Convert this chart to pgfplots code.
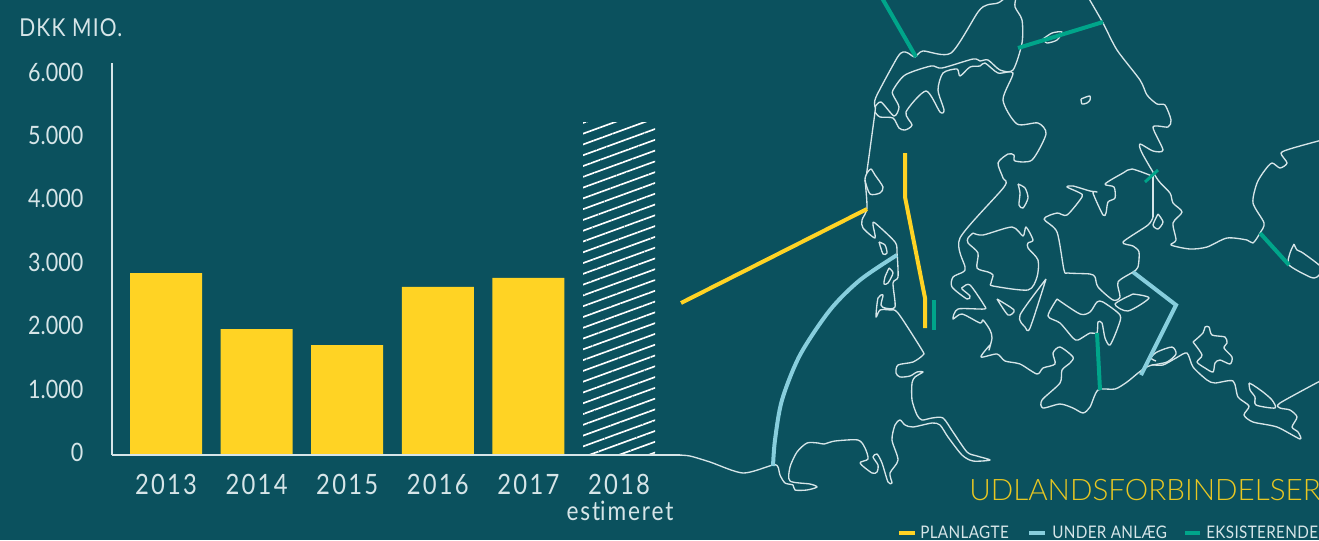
\documentclass[border=0pt]{standalone}
\usepackage{fontspec}
\setmainfont{Lato}[FakeStretch=0.85]
\newfontfamily\titlefont{Lato Light}
\newfontfamily\yearfont{Lato}[FakeStretch=0.85,LetterSpace=8]
\newfontfamily\dkkfont{Lato}[FakeStretch=0.85,LetterSpace=5]
\newfontfamily\estfont{Lato}[FakeStretch=0.85,LetterSpace=7]
\newfontfamily\legfont{Lato}[FakeStretch=0.88,LetterSpace=2]
\usepackage{pgfplots}
\pgfplotsset{compat=1.18}
\usetikzlibrary{patterns.meta}
\definecolor{bg}{HTML}{0B515E}
\definecolor{ylw}{HTML}{FFD324}
\definecolor{ttl}{HTML}{E8C722}
\definecolor{blu}{HTML}{87CEDD}
\definecolor{grn}{HTML}{00A58A}
\definecolor{wht}{HTML}{D6E5E8}
\pgfplotsset{
 coast/.style={no marks,smooth,tension=0.45,line width=1pt,color=wht,line join=round},
 link/.style={no marks,line width=#1,line cap=butt,line join=miter},
}
\begin{document}
\begin{tikzpicture}
\fill[bg] (0,0) rectangle (989.25pt,405pt);
\useasboundingbox (0,0) rectangle (989.25pt,405pt);
\begin{axis}[at={(0pt,0pt)},anchor=south west,scale only axis,width=989.25pt,height=405pt,
 xmin=0,xmax=1319,ymin=0,ymax=540,y dir=reverse,hide axis,clip=true]
% --- north coast
\addplot[coast] coordinates {(866.7,173)(875,112)(875,107)(876,97)(897,58)(903,52)(908,53)(915,57)(923,51)(951,53)(978,12)(987,5)(998,3)(1005,-2)};
\addplot[coast] coordinates {(875,107)(881,102)(894,116)(899,107)(893,95)(893,90)(905,75)(931,66)(942,68)(973,59)(980,61)(988,60)(1000,70)(1013,70)(1022,43)(1022,20)(1015,7)(1016,-2)};
% --- long east coast of Jutland and southwards
\addplot[coast] coordinates {(875,112)(880,117)(893,118)(899,128)(905,130)(912,125)(906,112)(926,91)(940,112)(944,110)(938,90)(943,73)(957,69)(960,76)(970,67)(980,66)(985,63)(998,73)(1013,73)(1003,100)(1017,124)(1038,123)(1046,134)(1032,160)(1015,161)(1014,155)(1008,154)(998,163)(1003,178)(1004,187)(960,238)(965,267)(963,272)(953,277)(952,287)(967,299)(970,296)(962,289)(963,287)(970,285)(984,305)(984,309)(958,309)(953,319)(962,314)(980,323)(983,320)(990,330)(992,338)(989,350)(990,345)(981,357)(997,354)(1005,361)(1020,364)(1037,374)(1043,368)(1055,364)(1053,353)(1060,347)(1073,357)(1070,363)(1062,370)(1060,383)(1042,400)(1043,408)(1060,404)(1073,408)(1083,413)(1090,407)(1098,390)(1115,389)(1127,382)(1138,373)(1145,368)(1152,365)(1163,365)(1176,358)(1187,353)(1193,367)(1207,380)(1215,383)(1233,381)(1238,397)(1249,406)(1244,415)(1253,422)(1277,427)(1300,439)(1298,432)(1292,427)(1297,417)(1290,410)(1280,408)(1280,403)(1322,380)};
% --- west coast and Wadden sea
\addplot[coast] coordinates {(867,173)(871,169)(875,175)(883,187)(880,193)(870,194)(865,180)(867,173)};
\addplot[coast] coordinates {(865,180)(867,208)(862,220)(863,228)(875,238)(873,225)(875,223)(895,242)(897,253)(898,277)(893,283)(895,307)(885,308)(881,305)(883,295)(878,298)(876,317)(880,310)(890,310)(898,313)(922,350)(923,355)(913,362)(898,365)(896,373)(900,377)(910,376)(917,372)(923,372)(915,377)(912,383)(912,400)(917,415)(922,420)(932,418)(943,418)(953,432)(967,452)(977,456)(990,460)(973,461)(962,455)(948,437)(940,425)(932,423)(913,427)(905,425)(900,420)(895,425)(892,440)(898,460)(890,473)(892,483)(888,482)(882,463)(877,454)(873,457)(878,465)(877,472)(872,473)(860,463)(868,459)(865,448)(858,440)(835,441)(824,444)(818,443)(807,443)(797,452)(790,467)(790,481)(810,484)(817,487)(807,490)(795,490)(793,485)(785,483)(780,475)(778,467)(773,465)(743,473)(710,462)(690,456)(678,455)};
% --- small islands
\addplot[coast] coordinates {(879,242)(885,245)(887,253)(883,254)(879,242)};
\addplot[coast] coordinates {(889,268)(893,273)(888,283)(884,284)(885,277)(889,268)};
\addplot[coast] coordinates {(1018,184)(1025,188)(1028,198)(1023,208)(1019,205)(1020,193)(1018,184)};
\addplot[coast] coordinates {(973,233)(983,235)(1012,227)(1023,236)(1026,227)(1033,240)(1028,243)(1028,248)(1038,260)(1037,277)(1028,290)(993,286)(991,283)(993,275)(988,272)(977,268)(978,253)(968,243)(968,238)(973,233)};
\addplot[coast] coordinates {(997,299)(1014,310)(1008,315)(997,299)};
\addplot[coast] coordinates {(1046,279)(1030,328)(1025,327)(1020,315)(1046,279)};
\addplot[coast] coordinates {(1057,299)(1080,314)(1090,312)(1097,302)(1103,302)(1120,315)(1118,327)(1110,345)(1105,338)(1102,323)(1098,322)(1097,333)(1090,333)(1078,340)(1073,338)(1060,323)(1048,316)(1057,299)};
\addplot[coast] coordinates {(1153,217)(1148,225)(1123,242)(1133,246)(1139,252)(1138,267)(1133,272)(1118,282)(1120,297)(1113,300)(1098,287)(1095,277)(1090,274)(1068,273)(1064,270)(1057,232)(1044,219)(1057,213)(1067,215)(1082,197)(1080,193)(1067,187)(1073,186)(1090,191)(1097,192)(1093,193)(1103,215)(1106,213)(1108,202)(1115,198)(1114,187)(1105,184)(1123,173)(1132,169)(1152,176)};
\addplot[coast,sharp plot] coordinates {(1153,175)(1153,217)};
\addplot[coast] coordinates {(1088,-3)(1103,23)(1117,50)(1140,80)(1147,95)(1157,104)(1165,105)(1171,120)(1168,127)(1153,127)(1163,150)(1153,151)(1140,144)(1142,153)(1158,180)(1170,193)(1173,203)(1182,212)(1173,223)(1176,240)(1171,245)(1190,249)(1207,247)(1227,238)(1247,240)(1253,243)(1260,233)(1264,223)(1253,203)(1257,183)(1265,170)(1272,163)(1280,168)(1287,163)(1281,153)(1293,148)(1322,140)};
\addplot[coast] coordinates {(1158,214)(1163,222)(1158,229)(1153,225)(1158,214)};
\addplot[coast] coordinates {(1294,244)(1290,253)(1289,265)(1310,277)(1317,277)(1322,268)(1303,253)(1297,250)(1294,244)};
\addplot[coast] coordinates {(1133,294)(1149,298)(1128,311)(1115,304)(1133,294)};
\addplot[coast] coordinates {(1043,39)(1052,33)(1062,32)(1057,40)(1047,43)(1043,39)};
\addplot[coast] coordinates {(1081,99)(1082,104)(1087,103)(1090,100)(1090,96)(1086,97)(1081,99)};
\addplot[coast] coordinates {(1152,365)(1167,362)(1176,354)(1172,347)(1157,352)(1151,358)(1156,361)};
\addplot[coast] coordinates {(1193,342)(1203,333)(1205,327)(1209,327)(1212,335)(1225,337)(1227,343)(1224,348)(1232,357)(1230,364)(1220,360)(1215,363)(1213,372)(1205,368)(1197,362)(1202,355)(1193,342)};
\addplot[coast] coordinates {(1249,383)(1250,390)(1255,397)(1256,405)(1275,408)(1272,400)(1263,392)(1253,385)(1249,383)};
% --- connections
\addplot[link=3pt,color=grn] coordinates {(882,-2)(916,57)};
\addplot[link=3pt,color=grn] coordinates {(1018,48)(1103,22)};
\addplot[link=2.2pt,color=grn] coordinates {(1158,170)(1145,182)};
\addplot[link=3pt,color=grn] coordinates {(1260,233)(1289,265)};
\addplot[link=3pt,color=grn] coordinates {(934,300)(934,330)};
\addplot[link=3pt,color=grn] coordinates {(1097,333)(1100,390)};
\addplot[link=3pt,color=ylw] coordinates {(905,153)(905,197)(925,298)(925,328)};
\addplot[link=3pt,color=ylw] coordinates {(681,303)(867,209)};
\addplot[link=3pt,color=blu,smooth] coordinates {(897,255)(860,280)(830,310)(800,355)(782,400)(775,440)(773,466)};
\addplot[link=3pt,color=blu] coordinates {(1133,272)(1176,305)(1141,375)};
% --- legend swatches
\addplot[link=3pt,color=ylw] coordinates {(899,533)(915,533)};
\addplot[link=3pt,color=blu] coordinates {(1029,533)(1045,533)};
\addplot[link=3pt,color=grn] coordinates {(1185,533)(1200,533)};
% --- texts
\node[anchor=base west,inner sep=0,text=wht,font=\dkkfont\fontsize{18.5pt}{18.5pt}\selectfont] at (axis cs:19,36) {DKK MIO.};
\node[anchor=base,inner sep=0,text=wht,font=\estfont\fontsize{20pt}{20pt}\selectfont] at (axis cs:620,520.5) {est\kern0pt imeret};
\node[anchor=base west,inner sep=0,text=ttl,font=\titlefont\fontsize{22.2pt}{22.2pt}\selectfont] at (axis cs:969,500) {UDLANDSFORBINDELSER};
\node[anchor=base west,inner sep=0,text=wht,font=\legfont\fontsize{13pt}{13pt}\selectfont] at (axis cs:920,538) {PLANLAGTE};
\node[anchor=base west,inner sep=0,text=wht,font=\legfont\fontsize{13pt}{13pt}\selectfont] at (axis cs:1052,538) {UNDER ANLÆG};
\node[anchor=base west,inner sep=0,text=wht,font=\legfont\fontsize{13pt}{13pt}\selectfont] at (axis cs:1206,538) {EKSISTERENDE};
\end{axis}
\begin{axis}[at={(84pt,63.75pt)},anchor=south west,scale only axis,width=426pt,height=294pt,
 xmin=-0.596,xmax=5.673,ymin=0,ymax=6183,
 axis x line=bottom,axis y line=left,axis line style={-,color=wht,line width=1pt},
 major tick length=0pt,
 ybar,bar width=54pt,
 xtick={0,1,2,3,4,5},xticklabels={2013,2014,2015,2016,2017,2018},
 ytick={0,1000,2000,3000,4000,5000,6000},
 /pgf/number format/.cd,1000 sep={.},assume math mode=true,
 /pgfplots/.cd,
 yticklabel style={text=wht,font=\fontsize{19pt}{19pt}\selectfont,anchor=east,xshift=-18pt,yshift=1.9pt},
 xticklabel style={text=wht,font=\yearfont\fontsize{21pt}{21pt}\selectfont,yshift=-10.5pt},
 axis on top=true]
\addplot[bar shift=0pt,draw=none,fill=ylw] coordinates {(0,2870)(1,1987)(2,1735)(3,2650)(4,2792)};
\addplot[bar shift=0pt,draw=none,pattern={Lines[angle=20,distance=7.6pt,line width=1.25pt]},pattern color=white] coordinates {(5,5252)};
\end{axis}
\end{tikzpicture}
\end{document}
